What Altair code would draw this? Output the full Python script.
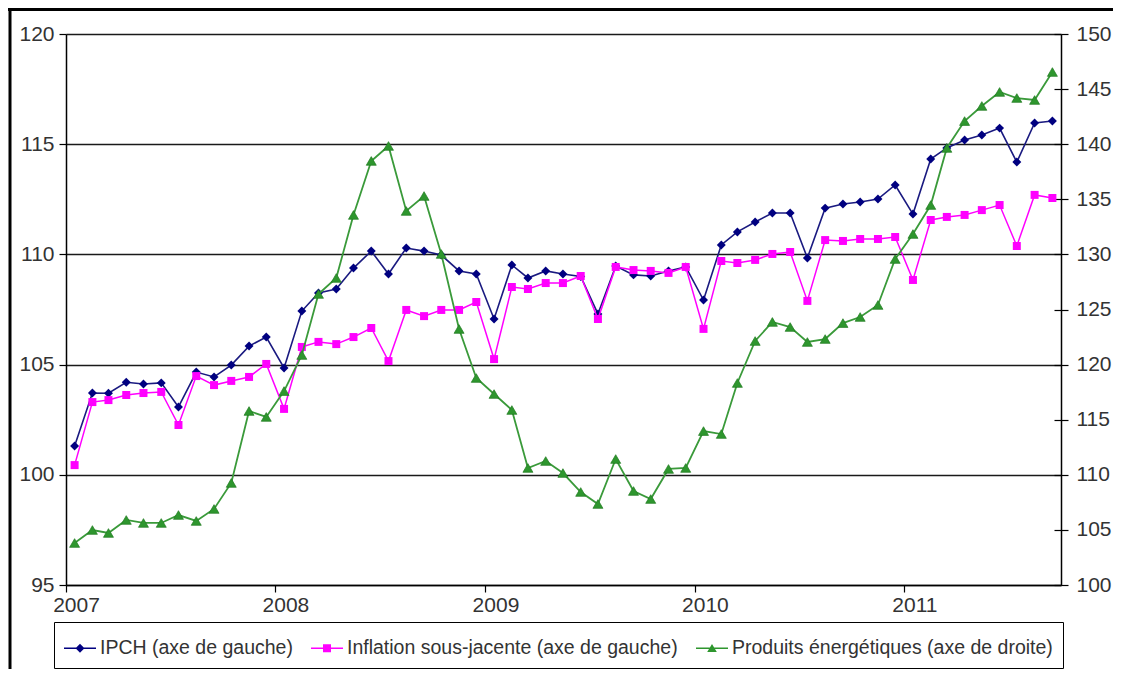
import altair as alt
import pandas as pd

# Monthly observations, Jan 2007 - Sep 2011 (plotted mid-month)
months = [d.strftime("%Y-%m-16") for d in pd.date_range("2007-01-01", periods=57, freq="MS")]

ipch = [101.31, 103.71, 103.70, 104.20, 104.12, 104.17, 103.08, 104.66, 104.44, 104.98, 105.84, 106.25,
        104.85, 107.43, 108.25, 108.43, 109.38, 110.15, 109.11, 110.29, 110.15, 109.97, 109.25, 109.11,
        107.07, 109.52, 108.93, 109.25, 109.11, 109.00, 107.30, 109.47, 109.07, 109.02, 109.25, 109.43,
        107.93, 110.43, 111.02, 111.47, 111.88, 111.88, 109.84, 112.10, 112.29, 112.38, 112.51, 113.15,
        111.83, 114.33, 114.83, 115.19, 115.42, 115.73, 114.19, 115.96, 116.05]

inflation = [100.44, 103.30, 103.39, 103.62, 103.71, 103.76, 102.26, 104.48, 104.07, 104.26, 104.44, 105.03,
             102.99, 105.80, 106.03, 105.93, 106.25, 106.66, 105.16, 107.48, 107.20, 107.48, 107.48, 107.84,
             105.25, 108.52, 108.43, 108.70, 108.70, 109.02, 107.07, 109.43, 109.29, 109.25, 109.16, 109.43,
             106.62, 109.70, 109.61, 109.75, 110.02, 110.11, 107.89, 110.65, 110.61, 110.70, 110.70, 110.79,
             108.84, 111.56, 111.70, 111.79, 112.01, 112.24, 110.38, 112.70, 112.56]

energie = [103.81, 104.99, 104.72, 105.90, 105.63, 105.63, 106.35, 105.81, 106.90, 109.26, 115.79, 115.25,
           117.60, 120.87, 126.41, 127.86, 133.58, 138.48, 139.84, 133.94, 135.30, 130.04, 123.23, 118.78,
           117.33, 115.88, 110.62, 111.25, 110.16, 108.44, 107.35, 111.43, 108.53, 107.80, 110.53, 110.62,
           113.97, 113.70, 118.33, 122.14, 123.87, 123.41, 122.05, 122.32, 123.77, 124.32, 125.41, 129.58,
           131.85, 134.48, 139.66, 142.10, 143.47, 144.74, 144.19, 144.01, 146.55]

series_names = ["IPCH (axe de gauche)",
                "Inflation sous-jacente (axe de gauche)",
                "Produits énergétiques (axe de droite)"]
series_colors = ["#000080", "#FF00FF", "#2E962E"]

year_ticks = [2007, 2008, 2009, 2010, 2011]
left_ticks = [95, 100, 105, 110, 115, 120]
right_ticks = [100, 105, 110, 115, 120, 125, 130, 135, 140, 145, 150]

df = pd.DataFrame({"month": months, "ipch": ipch, "inflation": inflation, "energie": energie})

FONT = "Liberation Sans"
TXT = "#333333"

x_enc = alt.X(
    "month:T",
    title=None,
    scale=alt.Scale(type="utc",
                    domain=[alt.DateTime(year=2007, month=1, date=1, utc=True),
                            alt.DateTime(year=2011, month=10, date=1, utc=True)]),
    axis=alt.Axis(values=[alt.DateTime(year=y, month=1, date=1, utc=True) for y in year_ticks],
                  format="%Y", grid=False, domainColor="#000", domainWidth=1.5,
                  tickColor="#000", tickWidth=1.2, tickSize=7, labelFontSize=21,
                  labelFont=FONT, labelColor=TXT, labelOffset=10, labelPadding=2,
                  labelFlush=False),
)

left_axis = alt.Axis(orient="left", values=left_ticks, grid=True, gridColor="#1a1a1a",
                     gridWidth=1.4, domainColor="#000", domainWidth=1.5, tickColor="#000",
                     tickWidth=1.2, tickSize=7, labelFontSize=21, labelFont=FONT,
                     labelColor=TXT, labelPadding=5, labelFlush=False)
left_scale = alt.Scale(domain=[95, 120], nice=False, zero=False)

base = alt.Chart(df)

ipch_line = base.mark_line(color="#1a1a80", strokeWidth=1.6).encode(
    x=x_enc, y=alt.Y("ipch:Q", scale=left_scale, axis=left_axis, title=None))
ipch_pts = base.mark_point(shape="diamond", filled=True, size=80, color="#000080", opacity=1).encode(
    x=x_enc, y=alt.Y("ipch:Q", scale=left_scale, axis=left_axis, title=None))
infl_line = base.mark_line(color="#FF00FF", strokeWidth=1.5).encode(
    x=x_enc, y=alt.Y("inflation:Q", scale=left_scale, axis=left_axis, title=None))
infl_pts = base.mark_point(shape="square", filled=True, size=64, color="#FF00FF", opacity=1).encode(
    x=x_enc, y=alt.Y("inflation:Q", scale=left_scale, axis=left_axis, title=None))

# Legend-only layer (no marks drawn): line + marker glyphs
seg = "M-1,-0.05H1V0.05H-1Z"
legend_shapes = [seg + "M0,-0.28L0.28,0L0,0.28L-0.28,0Z",
                 seg + "M-0.25,-0.25H0.25V0.25H-0.25Z",
                 seg + "M0,-0.27L0.3,0.24H-0.3Z"]
leg_df = pd.DataFrame({"serie": series_names, "v": [100, 100, 100]})
legend_def = alt.Legend(title=None, orient="none", legendX=-12, legendY=588,
                        direction="horizontal", columns=3, strokeColor="#000",
                        fillColor="white", padding=10, symbolSize=1024,
                        symbolStrokeWidth=0, labelFontSize=19.5, labelFont=FONT,
                        labelColor=TXT, labelLimit=500, labelOffset=4, columnPadding=18)
legend_layer = alt.Chart(leg_df).mark_point(filled=True, opacity=1).encode(
    x=alt.value(0),
    y=alt.Y("v:Q", scale=left_scale, axis=left_axis, title=None),
    color=alt.Color("serie:N", scale=alt.Scale(domain=series_names, range=series_colors),
                    legend=legend_def),
    shape=alt.Shape("serie:N", scale=alt.Scale(domain=series_names, range=legend_shapes),
                    legend=legend_def),
).transform_filter("false")

left = alt.layer(ipch_line, ipch_pts, infl_line, infl_pts, legend_layer)

right_scale = alt.Scale(domain=[100, 150], nice=False, zero=False)
right_axis = alt.Axis(orient="right", values=right_ticks, grid=False, domainColor="#000",
                      domainWidth=1.5, tickColor="#000", tickWidth=1.2, tickSize=7,
                      labelFontSize=21, labelFont=FONT, labelColor=TXT, labelPadding=8,
                      labelFlush=False)
right_inner = alt.Axis(orient="right", values=right_ticks, grid=False, domain=False,
                       labels=False, tickColor="#000", tickWidth=1.2, tickSize=7, offset=-7)

en_line = base.mark_line(color="#3A9A3A", strokeWidth=1.8).encode(
    x=x_enc, y=alt.Y("energie:Q", scale=right_scale, axis=right_axis, title=None))
en_pts = base.mark_point(shape="triangle-up", filled=True, size=100, color="#2E962E",
                         stroke="#1F7A1F", strokeWidth=0.7, opacity=1).encode(
    x=x_enc, y=alt.Y("energie:Q", scale=right_scale, axis=right_inner, title=None))

right = alt.layer(en_line, en_pts).resolve_axis(y="independent")

frame_df = alt.Data(values=[{"k": 1}])
frame_left = alt.Chart(frame_df).mark_rule(color="#000", strokeWidth=3).encode(
    x=alt.value(-56), y=alt.value(-26), y2=alt.value(643))
frame_top = alt.Chart(frame_df).mark_rule(color="#000", strokeWidth=3).encode(
    x=alt.value(-58), x2=alt.value(1055), y=alt.value(-24.5))

chart = alt.layer(left, right, frame_left, frame_top).resolve_scale(y="independent").properties(
    width=995, height=551,
    autosize=alt.AutoSizeParams(type="none"),
    padding={"left": 58, "top": 26, "right": 52, "bottom": 84},
).configure_view(stroke=None).configure(font=FONT)

chart.save("out.html", embed_options={"renderer": "svg", "actions": False})
